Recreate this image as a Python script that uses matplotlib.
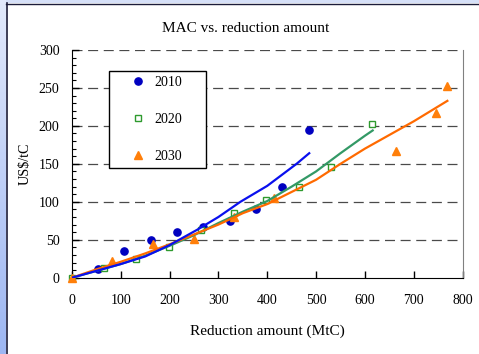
import numpy as np
import matplotlib
matplotlib.use('Agg')
import matplotlib.pyplot as plt
from matplotlib.lines import Line2D

plt.rcParams['font.family'] = ['Liberation Serif', 'DejaVu Serif']
plt.rcParams['font.size'] = 10

# Observed MAC points (MtC, US$/tC)
x_2010 = [53, 107, 162, 216, 269, 323, 376, 430, 486]
y_2010 = [12, 35, 50, 60, 67, 75, 90, 120, 195]
x_2020 = [0, 66, 131, 199, 265, 331, 397, 465, 531, 615]
y_2020 = [0, 13, 25, 41, 63, 85, 102, 120, 146, 203]
x_2030 = [0, 82, 165, 249, 331, 413, 663, 745, 769]
y_2030 = [0, 22, 45, 51, 80, 105, 167, 217, 253]

# Fitted MAC curves
fit_x_2010 = [0, 50, 100, 150, 200, 256, 300, 345, 400, 460, 486]
fit_y_2010 = [0, 9, 18, 28, 43, 63, 80, 100, 121, 150, 164]
fit_x_2020 = [0, 50, 100, 150, 200, 250, 300, 350, 400, 450, 500, 550, 600, 616]
fit_y_2020 = [0, 9, 18, 29, 42, 56, 72, 87, 101, 120, 140, 164, 187, 194]
fit_x_2030 = [0, 50, 100, 150, 200, 250, 300, 350, 400, 450, 500, 550, 600, 650, 700, 769]
fit_y_2030 = [0, 11, 21, 32, 44, 57, 70, 85, 97, 113, 129, 150, 170, 188, 206, 233]

W, H = 479, 354
fig = plt.figure(figsize=(W / 100, H / 100), dpi=100)
fig.patch.set_facecolor('white')

# slide-style border strips
strip = fig.add_axes([0, 0, 6 / W, 1])
strip.imshow(np.linspace(0, 1, 100).reshape(-1, 1), aspect='auto',
             cmap=matplotlib.colors.LinearSegmentedColormap.from_list('s', ['#e2e9fb', '#9db6f2']))
strip.axis('off')
top = fig.add_axes([6 / W, 1 - 3 / H, 1 - 6 / W, 3 / H])
top.set_facecolor('#d6e0f8')
top.set_xticks([]); top.set_yticks([])
for s in top.spines.values():
    s.set_visible(False)
fig.add_artist(Line2D([6.5 / W, 6.5 / W], [0, 1 - 3 / H], color='#1c1c3a', lw=1.2, transform=fig.transFigure))
fig.add_artist(Line2D([6 / W, 1], [1 - 3.5 / H, 1 - 3.5 / H], color='#1c1c3a', lw=1.0, transform=fig.transFigure))

ax = fig.add_axes([72 / W, 1 - 277.7 / H, 390.5 / W, 227.7 / H])
ax.set_xlim(0, 800)
ax.set_ylim(0, 300)

for yv in range(50, 301, 50):
    ax.axhline(yv, color='#4a4a4a', lw=0.9, linestyle=(0, (8, 4.5)), zorder=1)

ax.plot(x_2010, y_2010, 'o', color='#0000c0', ms=5.2, label='2010', zorder=3, clip_on=False)
ax.plot(x_2020, y_2020, 's', mfc='white', mec='#2e9a2e', mew=1.0, ms=5, label='2020', zorder=3, clip_on=False)
ax.plot(x_2030, y_2030, '^', color='#ff7f0a', ms=6, label='2030', zorder=3, clip_on=False)

ax.plot(fit_x_2020, fit_y_2020, '-', color='#339966', lw=1.6, zorder=4)
ax.plot(fit_x_2030, fit_y_2030, '-', color='#ff6a00', lw=1.6, zorder=4)
ax.plot(fit_x_2010, fit_y_2010, '-', color='#0a10ee', lw=1.6, zorder=5)

ax.spines['top'].set_visible(False)
ax.spines['right'].set_color('#808080')
ax.spines['left'].set_color('black')
ax.spines['bottom'].set_color('black')

ax.set_xticks(range(0, 801, 100))
ax.set_yticks(range(0, 301, 50))
ax.set_yticks(range(0, 301, 10), minor=True)
ax.tick_params(axis='both', which='major', direction='in', length=5, width=1, labelsize=10)
ax.tick_params(axis='y', which='minor', direction='in', length=3, width=0.8)
ax.tick_params(axis='y', which='major', pad=9)
ax.tick_params(axis='x', which='major', pad=12)

ax.set_xlabel('Reduction amount (MtC)', fontsize=11)
ax.xaxis.set_label_coords(0.5, -0.205)
ax.set_ylabel('US$/tC', fontsize=10.2)
ax.yaxis.set_label_coords(-0.102, 0.5)
fig.text(246 / W, 1 - 28 / H, 'MAC vs. reduction amount', fontsize=11, ha='center', va='center')

leg = ax.legend(loc='upper left', bbox_to_anchor=(0.0955, 0.502, 0.2485, 0.407), mode='expand',
                borderaxespad=0, borderpad=0.35, handlelength=3.5, handletextpad=-0.6,
                labelspacing=1.75, fancybox=False, framealpha=1, edgecolor='black', fontsize=10)
leg.get_frame().set_linewidth(1.0)
leg.set_zorder(6)

fig.savefig('out.png', dpi=100, facecolor=fig.get_facecolor())
